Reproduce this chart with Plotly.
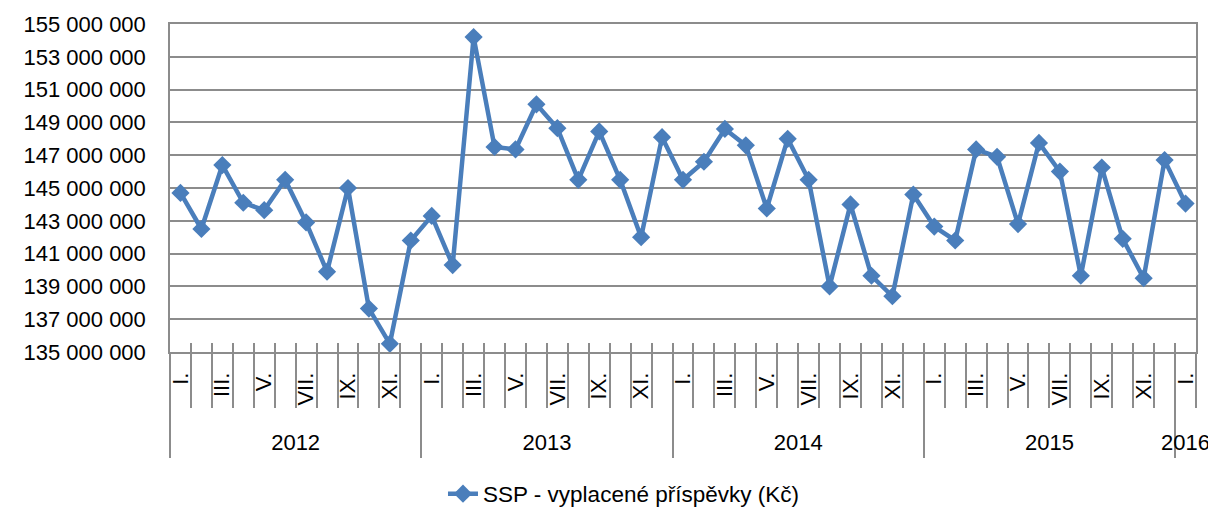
import plotly.graph_objects as go

# ---- data ----
years = ["2012", "2013", "2014", "2015", "2016"]
year_month_counts = [12, 12, 12, 12, 1]
month_labels = ["I.", "", "III.", "", "V.", "", "VII.", "", "IX.", "", "XI.", ""] * 4 + ["I."]
values_mil = [144.7, 142.5, 146.4, 144.1, 143.65, 145.5, 142.9, 139.9, 145.0, 137.65, 135.5, 141.8,
              143.3, 140.3, 154.2, 147.5, 147.35, 150.1, 148.65, 145.5, 148.45, 145.5, 142.0, 148.1,
              145.5, 146.6, 148.6, 147.6, 143.75, 148.0, 145.5, 139.0, 144.0, 139.65, 138.4, 144.6,
              142.65, 141.8, 147.35, 146.9, 142.8, 147.75, 146.0, 139.65, 146.25, 141.9, 139.5, 146.7,
              144.05]
series_name = "SSP - vyplacené příspěvky (Kč)"

values = [v * 1e6 for v in values_mil]
n = len(values)
idx = list(range(n))
boundaries = [i - 0.5 for i in range(n + 1)]

# year group centers and boundaries
year_centers, year_bounds = [], []
start = 0
for c in year_month_counts:
    year_centers.append(start + (c - 1) / 2)
    year_bounds.append(start - 0.5)
    start += c

BLUE = "#4A7EBB"
GRID = "#8C8C8C"
FONT = "Liberation Sans"
xr = [-0.5, n - 0.5]

fig = go.Figure()
fig.add_trace(go.Scatter(
    x=idx, y=values, mode="lines+markers", name=series_name,
    line=dict(color=BLUE, width=4.5),
    marker=dict(symbol="diamond", size=14, color=BLUE),
))
# invisible helper traces so the overlay axes (year labels, small ticks) get drawn
for ax in ["x2", "x3"]:
    fig.add_trace(go.Scatter(x=idx, y=values, xaxis=ax, yaxis="y", mode="markers",
                             marker=dict(opacity=0), showlegend=False, hoverinfo="skip"))

fig.update_layout(
    width=1208, height=499,
    margin=dict(l=162, r=20, t=16, b=155, autoexpand=False),
    paper_bgcolor="white", plot_bgcolor="white",
    separators=", ",
    font=dict(family=FONT, color="black"),
    showlegend=True,
    legend=dict(orientation="h", x=0.442, xanchor="center", yref="container", y=0.026,
                yanchor="middle", font=dict(size=22.5, family=FONT)),
    yaxis=dict(range=[135e6, 155e6], dtick=2e6, tick0=135e6, tickformat=",.0f",
               showgrid=True, gridcolor=GRID, gridwidth=1.5,
               showline=True, linecolor=GRID, linewidth=1.5, mirror=True,
               ticks="", tickfont=dict(size=22, family=FONT), ticklabelstandoff=18,
               zeroline=False, automargin=False),
    xaxis=dict(range=xr, tickmode="array", tickvals=idx, ticktext=month_labels,
               tickangle=-90, ticks="", tickfont=dict(size=22, family=FONT),
               ticklabelstandoff=10, automargin=False,
               showgrid=False, zeroline=False,
               showline=True, linecolor=GRID, linewidth=1.5, mirror=True,
               minor=dict(tickmode="array", tickvals=boundaries, ticks="outside",
                          ticklen=54, tickcolor=GRID, tickwidth=1.5, showgrid=False)),
    xaxis2=dict(range=xr, overlaying="x", anchor="y", side="bottom", automargin=False,
                tickmode="array", tickvals=year_centers, ticktext=years,
                ticks="", tickfont=dict(size=22, family=FONT), ticklabelstandoff=75,
                showgrid=False, zeroline=False, showline=False,
                minor=dict(tickmode="array", tickvals=year_bounds, ticks="outside",
                           ticklen=105, tickcolor=GRID, tickwidth=1.5, showgrid=False)),
    xaxis3=dict(range=xr, overlaying="x", anchor="y", side="bottom", automargin=False,
                tickmode="linear", tick0=-0.5, dtick=1, ticks="inside", ticklen=9,
                tickcolor=GRID, tickwidth=1.5, showticklabels=False,
                showgrid=False, zeroline=False, showline=False),
)

fig.write_html("out.html")
